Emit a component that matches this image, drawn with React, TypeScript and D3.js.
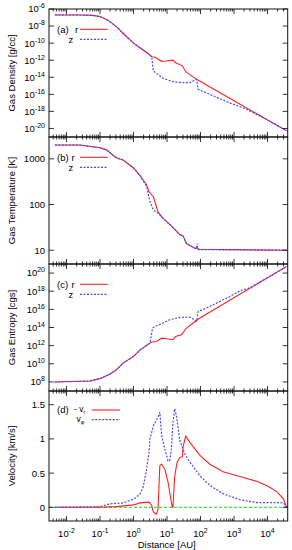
import React, { useEffect, useRef } from "react";
import * as d3 from "d3";

// distance [AU] vs quantity
const densityR: [number, number][] = [
  [0.0045, 2e-7], [0.025, 2e-7], [0.06, 1.8e-7], [0.1, 1.3e-7], [0.17, 5e-8],
  [0.31, 8.5e-9], [0.55, 9e-10], [1.0, 1e-10], [1.55, 2.9e-11], [2.9, 5e-12],
  [3.5, 2.5e-12], [4.4, 2.2e-12], [6.9, 7.4e-13], [9.2, 8e-13], [15, 1e-12],
  [18, 5e-13], [29, 2.2e-13], [36, 4.5e-14], [76, 5.7e-15], [1000, 1.8e-17],
  [10000, 1e-19], [37000, 5.4e-21],
];
const densityZ: [number, number][] = [
  [0.0045, 2e-7], [0.025, 2e-7], [0.06, 1.8e-7], [0.1, 1.3e-7], [0.17, 5e-8],
  [0.31, 8.5e-9], [0.55, 9e-10], [1.0, 1e-10], [1.55, 2.9e-11], [2.9, 5e-12],
  [3.5, 2.5e-12], [3.9, 5.4e-14], [7.6, 7.6e-15], [15, 3e-15], [24, 2.5e-15],
  [48, 2.3e-15], [76, 5.7e-15], [85, 3.9e-16], [740, 1e-17], [2300, 1.9e-18],
  [10000, 1e-19], [37000, 5.4e-21],
];

const tempR: [number, number][] = [
  [0.0045, 2000], [0.025, 2000], [0.1, 1750], [0.16, 1550], [0.25, 1180],
  [0.31, 1050], [0.49, 940], [1.0, 630], [1.55, 435], [2.45, 270], [2.9, 190],
  [3.9, 148], [5.4, 69], [7.6, 50], [13.5, 34], [24, 22], [30, 20.6], [38, 14],
  [68, 11], [96, 10.5], [37000, 10],
];
const tempZ: [number, number][] = [
  [0.0045, 2000], [0.025, 2000], [0.1, 1750], [0.16, 1550], [0.25, 1180],
  [0.31, 1050], [0.49, 940], [1.0, 630], [1.55, 435], [2.45, 250], [3.1, 115],
  [3.9, 76], [5.4, 65], [7.6, 50], [13.5, 34], [24, 22], [30, 20.6], [38, 14],
  [68, 11], [74, 10.6], [79, 14], [82, 10.5], [96, 10.3], [37000, 10],
];

const entropyR: [number, number][] = [
  [0.0045, 1e8], [0.05, 1.25e8], [0.1, 2.3e8], [0.2, 7.4e8], [0.31, 2.2e9],
  [0.49, 1.2e10], [1.0, 6.5e10], [1.55, 3.2e11], [2.9, 1.6e12], [3.5, 2.5e12],
  [4.9, 2.9e12], [6.9, 6.8e12], [8.6, 6.2e12], [15, 4.5e12], [18, 1e13],
  [27, 1.6e13], [30, 2.5e13], [36, 7.2e13], [60, 3.1e14], [96, 1.1e15],
  [37000, 5.4e20],
];
const entropyZ: [number, number][] = [
  [0.0045, 1e8], [0.05, 1.25e8], [0.1, 2.3e8], [0.2, 7.4e8], [0.31, 2.2e9],
  [0.49, 1.2e10], [1.0, 6.5e10], [1.55, 3.2e11], [2.9, 1.6e12], [3.1, 1.95e12],
  [3.7, 8.7e13], [4.9, 1.55e14], [7.6, 3.1e14], [12, 7.2e14], [24, 1.3e15],
  [48, 1.4e15], [60, 8.5e14], [76, 4.7e14], [85, 5.9e15], [150, 1.4e16],
  [740, 2.5e17], [1500, 1.1e18], [3000, 2.4e18], [37000, 5.4e20],
];

const velR: [number, number][] = [
  [0.0045, 0], [0.1, 0], [0.31, 0.01], [1.0, 0.035], [1.55, 0.065], [2.9, 0.075],
  [3.1, 0.065], [3.5, 0.025], [3.9, -0.07], [4.9, -0.1], [5.4, -0.02], [6.1, 0.61],
  [6.9, 0.63], [8.6, 0.56], [10.7, 0.37], [13.5, 0.07], [14.4, 0], [15, 0],
  [17, 0.46], [20, 0.66], [24, 0.73], [29, 0.74], [30, 0.88], [36, 1.04],
  [48, 0.95], [96, 0.76], [190, 0.63], [470, 0.52], [1500, 0.45], [4700, 0.38],
  [9400, 0.32], [19000, 0.23], [30000, 0.12], [37000, 0],
];
const velPhi: [number, number][] = [
  [0.0045, 0], [0.1, 0.01], [0.2, 0.05], [0.49, 0.065], [1.0, 0.12], [1.55, 0.19],
  [1.95, 0.3], [2.45, 0.55], [2.9, 0.8], [3.1, 1.0], [3.9, 1.19], [5.4, 1.32],
  [6.1, 1.39], [6.9, 1.05], [8.6, 0.85], [10.7, 0.68], [12, 0.68], [13.5, 0.85],
  [15, 1.24], [17, 1.44], [19, 1.34], [24, 0.98], [34, 0.78], [48, 0.66],
  [96, 0.46], [190, 0.32], [470, 0.2], [1500, 0.11], [4700, 0.07], [15000, 0.07],
  [30000, 0.065], [37000, 0],
];
const velZero: [number, number][] = [[0.003, 0], [40000, 0]];

const xTickExp = [-2, -1, 0, 1, 2, 3, 4];
const densityTickExp = [-6, -8, -10, -12, -14, -16, -18, -20];
const tempTicks = [10, 100, 1000];
const entropyTickExp = [8, 10, 12, 14, 16, 18, 20];
const velTicks = [0, 0.5, 1, 1.5];

const RED = "#ff2020";
const BLUE = "#4848ff";
const GREEN = "#44e044";
const FONT = "Liberation Sans, Arial, sans-serif";

const App = () => {
  const ref = useRef<SVGSVGElement>(null);

  useEffect(() => {
    const svg = d3.select(ref.current);
    svg.selectAll("*").remove();

    const left = 49, right = 287.7;
    const x = d3.scaleLog().domain([0.003, 4e4]).range([left, right]);

    const pow = (sel: any, exp: number) => {
      sel.append("tspan").text("10");
      sel.append("tspan").attr("dy", -4).attr("font-size", 7).text(exp);
    };

    const panels = [
      {
        top: 9, bottom: 137, y: d3.scaleLog().domain([1e-21, 1e-6]),
        ticks: densityTickExp.map((e) => ({ v: Math.pow(10, e), exp: e, txt: "" })),
        title: "Gas Density [g/cc]", tag: "(a)", rX: 75, key: "z",
        series: [densityR, densityZ],
      },
      {
        top: 137, bottom: 264, y: d3.scaleLog().domain([5, 3000]),
        ticks: tempTicks.map((v) => ({ v, exp: null, txt: String(v) })),
        title: "Gas Temperature [K]", tag: "(b)", rX: 71.5, key: "z",
        series: [tempR, tempZ],
      },
      {
        top: 264, bottom: 391, y: d3.scaleLog().domain([1e7, 1e21]),
        ticks: entropyTickExp.map((e) => ({ v: Math.pow(10, e), exp: e, txt: "" })),
        title: "Gas Entropy [cgs]", tag: "(c)", rX: 71.5, key: "z",
        series: [entropyR, entropyZ],
      },
      {
        top: 391, bottom: 521, y: d3.scaleLinear().domain([-0.2, 1.7]),
        ticks: velTicks.map((v) => ({ v, exp: null, txt: String(v) })),
        title: "Velocity [km/s]", tag: "(d)", rX: 0, key: "",
        series: [velR, velPhi],
      },
    ];

    const minor: number[] = [];
    for (let e = -3; e <= 4; e++) {
      for (let m = 2; m <= 9; m++) {
        const v = m * Math.pow(10, e);
        if (v > 0.003 && v < 4e4) minor.push(v);
      }
    }
    const major = xTickExp.map((e) => Math.pow(10, e));

    panels.forEach((p, i) => {
      const y = (p.y as any).range([p.bottom, p.top]);
      const g = svg.append("g");
      const clipId = `clip${i}`;
      g.append("clipPath").attr("id", clipId).append("rect")
        .attr("x", left).attr("y", p.top)
        .attr("width", right - left).attr("height", p.bottom - p.top);

      const line = d3.line<[number, number]>()
        .x((d) => x(d[0]))
        .y((d) => y(d[1]));

      const curves = g.append("g").attr("clip-path", `url(#${clipId})`);
      if (i === 3) {
        curves.append("path").attr("d", line(velZero))
          .attr("fill", "none").attr("stroke", GREEN)
          .attr("stroke-width", 1.3).attr("stroke-dasharray", "3,2");
      }
      curves.append("path").attr("d", line(p.series[0]))
        .attr("fill", "none").attr("stroke", RED).attr("stroke-width", 1.1);
      curves.append("path").attr("d", line(p.series[1]))
        .attr("fill", "none").attr("stroke", BLUE)
        .attr("stroke-width", 1.2).attr("stroke-dasharray", "2,1.5");

      // x ticks, inward on top and bottom
      const tick = (v: number, len: number) => {
        g.append("line").attr("x1", x(v)).attr("x2", x(v))
          .attr("y1", p.bottom).attr("y2", p.bottom - len)
          .attr("stroke", "#000").attr("stroke-width", 0.8);
        g.append("line").attr("x1", x(v)).attr("x2", x(v))
          .attr("y1", p.top).attr("y2", p.top + len)
          .attr("stroke", "#000").attr("stroke-width", 0.8);
      };
      minor.forEach((v) => tick(v, 2.5));
      major.forEach((v) => tick(v, 5));

      // y ticks + labels
      p.ticks.forEach((t) => {
        const yy = y(t.v);
        g.append("line").attr("x1", left).attr("x2", left + 5)
          .attr("y1", yy).attr("y2", yy).attr("stroke", "#000").attr("stroke-width", 0.8);
        g.append("line").attr("x1", right).attr("x2", right - 5)
          .attr("y1", yy).attr("y2", yy).attr("stroke", "#000").attr("stroke-width", 0.8);
        const lab = g.append("text").attr("x", 45).attr("y", yy + 3.4)
          .attr("text-anchor", "end").attr("font-size", 9.5).attr("font-family", FONT);
        if (t.exp !== null) pow(lab, t.exp);
        else lab.text(t.txt);
      });

      g.append("rect").attr("x", left).attr("y", p.top)
        .attr("width", right - left).attr("height", p.bottom - p.top)
        .attr("fill", "none").attr("stroke", "#111").attr("stroke-width", 1);

      g.append("text")
        .attr("transform", `translate(15,${(p.top + p.bottom) / 2}) rotate(-90)`)
        .attr("text-anchor", "middle").attr("font-size", 9.5)
        .attr("font-family", FONT).text(p.title);

      // legend
      const txt = (tx: number, ty: number, fs = 9.5) =>
        g.append("text").attr("x", tx).attr("y", ty)
          .attr("font-size", fs).attr("font-family", FONT);
      if (i < 3) {
        const r1 = p.top + 20.3, r2 = p.top + 30.3;
        txt(57, r1 + 3.4).text(p.tag);
        txt(p.rX, r1 + 3.4).text("r");
        txt(68.5, r2 + 3.4).text(p.key);
        g.append("line").attr("x1", 80).attr("x2", 107.7).attr("y1", r1).attr("y2", r1)
          .attr("stroke", RED).attr("stroke-width", 1.1);
        g.append("line").attr("x1", 80).attr("x2", 107.7).attr("y1", r2).attr("y2", r2)
          .attr("stroke", BLUE).attr("stroke-width", 1.2).attr("stroke-dasharray", "2,1.5");
      } else {
        const r1 = p.top + 19, r2 = p.top + 28.7;
        txt(57, r1 + 3.4).text(p.tag);
        const a = txt(74, r1 + 2.2, 8.5);
        a.append("tspan").text("- v");
        a.append("tspan").attr("dy", 1.5).attr("font-size", 5.5).text("r");
        const b = txt(76.5, r2 + 2.2, 8.5);
        b.append("tspan").text("v");
        b.append("tspan").attr("dy", 2).attr("font-size", 5.5).text("φ");
        g.append("line").attr("x1", 91.7).attr("x2", 120).attr("y1", r1).attr("y2", r1)
          .attr("stroke", RED).attr("stroke-width", 1.1);
        g.append("line").attr("x1", 91.7).attr("x2", 120).attr("y1", r2).attr("y2", r2)
          .attr("stroke", BLUE).attr("stroke-width", 1.2).attr("stroke-dasharray", "2,1.5");

        // x tick labels
        xTickExp.forEach((e) => {
          const lab = svg.append("text").attr("x", x(Math.pow(10, e))).attr("y", 536.5)
            .attr("text-anchor", "middle").attr("font-size", 9.5).attr("font-family", FONT);
          pow(lab, e);
        });
      }
    });

    svg.append("text").attr("x", 166.7).attr("y", 547.5)
      .attr("text-anchor", "middle").attr("font-size", 9.5)
      .attr("font-family", FONT).text("Distance [AU]");
  }, []);

  return (
    <svg ref={ref} width={292} height={550}
      style={{ position: "absolute", left: 0, top: 0, background: "#fff" }} />
  );
};

export default App;
